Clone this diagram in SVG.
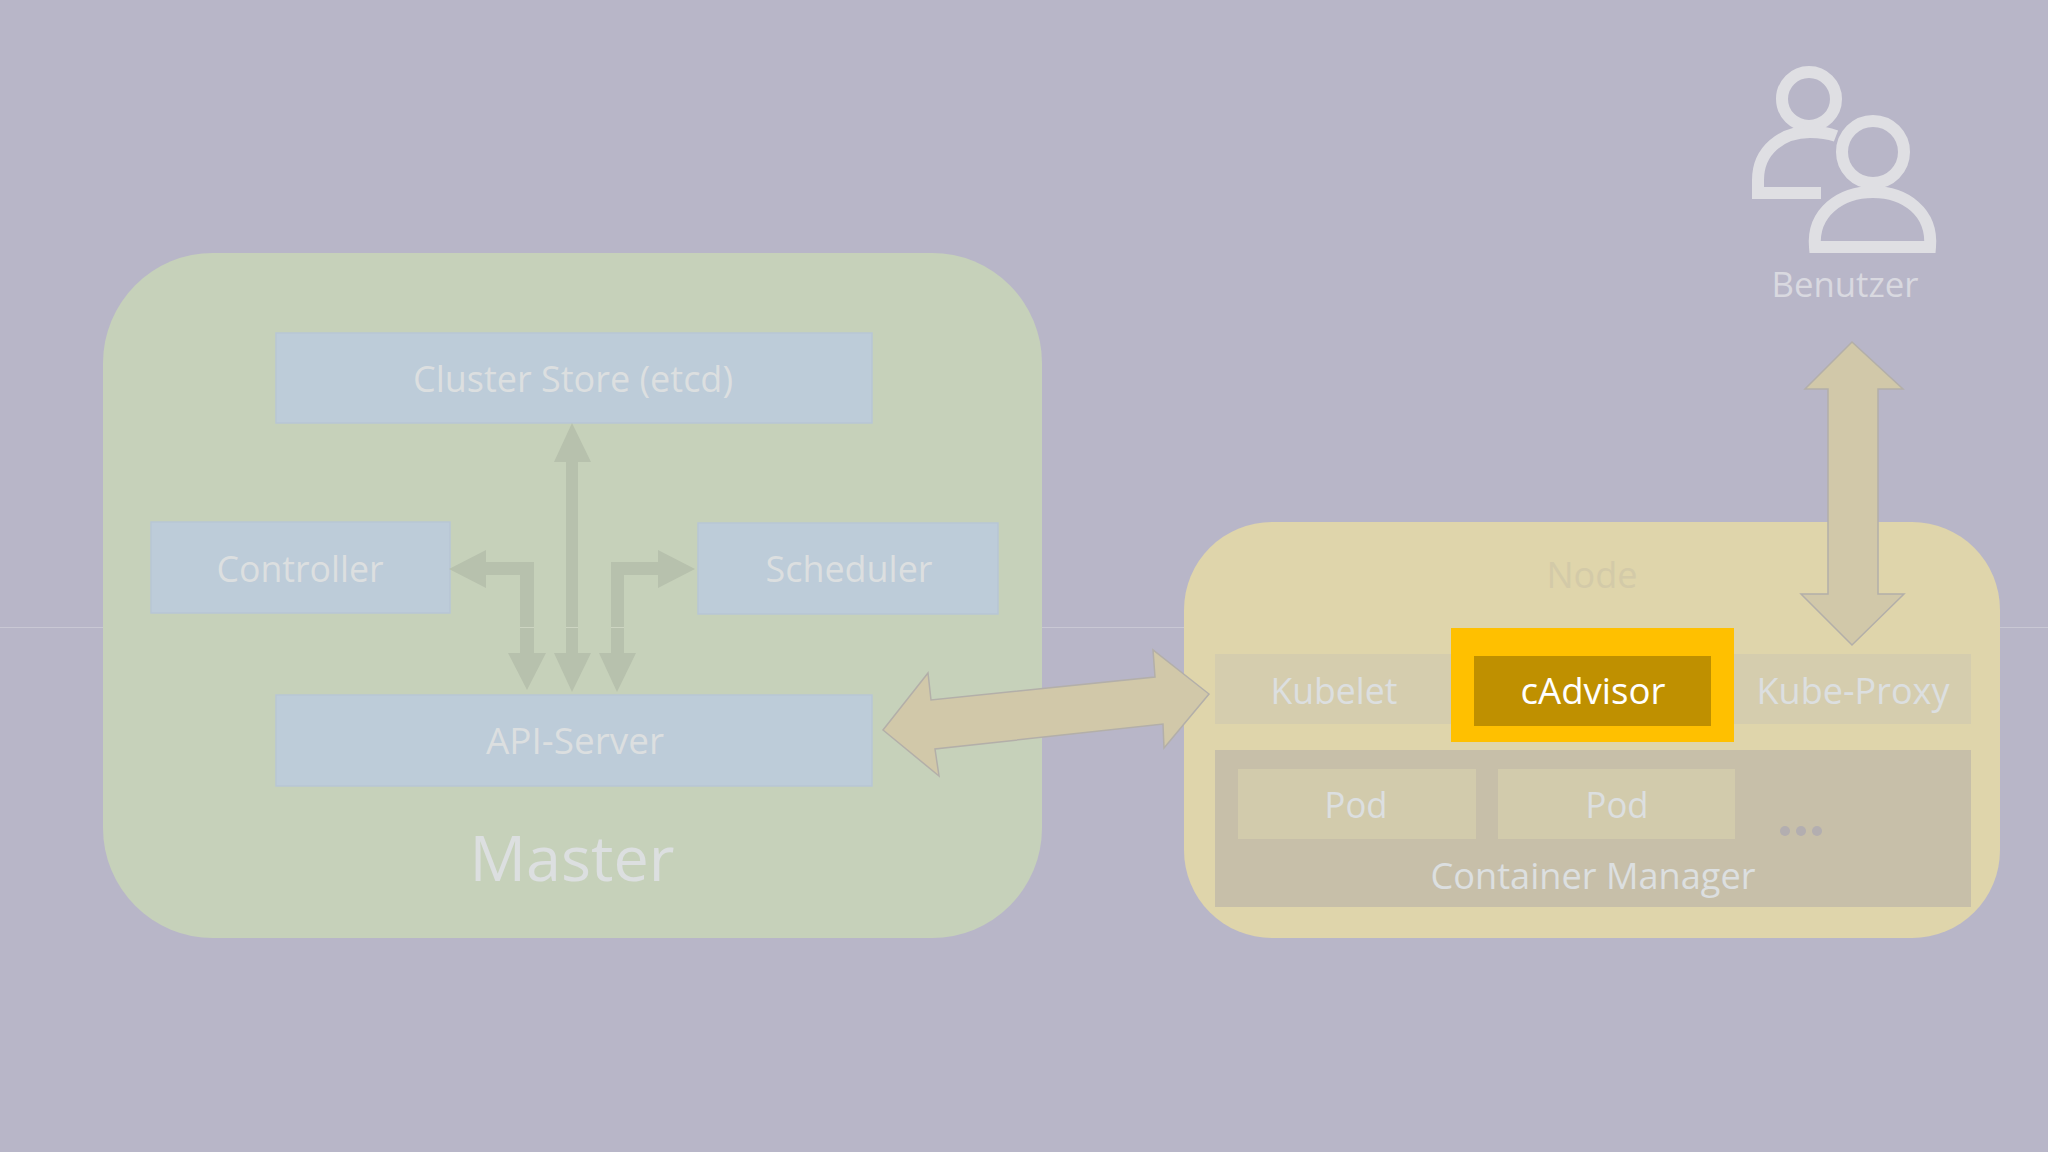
<svg xmlns="http://www.w3.org/2000/svg" width="2048" height="1152" viewBox="0 0 2048 1152">
<style>
text{font-family:"Open Sans","Noto Sans","Liberation Sans",sans-serif;font-size:37px;text-anchor:middle;fill:#dcdfe0}
.blue{fill:#bdccd9;stroke:#b8c6d5;stroke-width:1.5}
.band{fill:#d5cdae}
.pod{fill:#d2cbac}
.ga{fill:#b7c1ad}
.ba{fill:#d1c8a9;stroke:#b3afa9;stroke-width:1.5}
.ic{fill:none;stroke:#dfdfe3;stroke-width:12}
.edge{stroke:#c9c8d4;stroke-width:1;fill:none}
.mark{stroke:#cdd5c2;stroke-width:1;fill:none}
</style>
<rect width="2048" height="1152" fill="#b8b6c8"/>
<g id="scanline"><path class="edge" d="M0 627.500H103M1042 627.500H1184M2000 627.500H2048"/></g>
<g id="master"><rect x="103" y="253" width="939" height="685" rx="110" fill="#c6d1ba"/><text x="572" y="881" style="font-size:62px" textLength="205" lengthAdjust="spacingAndGlyphs">Master</text></g>
<g id="cluster-store"><rect class="blue" x="276" y="333" width="596" height="90"/><text x="573" y="392" textLength="320" lengthAdjust="spacingAndGlyphs">Cluster Store (etcd)</text></g>
<g id="controller"><rect class="blue" x="151" y="522" width="299" height="91"/><text x="300" y="582" textLength="167" lengthAdjust="spacingAndGlyphs">Controller</text></g>
<g id="scheduler"><rect class="blue" x="698" y="523" width="300" height="91"/><text x="849" y="582" textLength="167" lengthAdjust="spacingAndGlyphs">Scheduler</text></g>
<g id="api-server"><rect class="blue" x="276" y="695" width="596" height="91"/><text x="575" y="754" textLength="178" lengthAdjust="spacingAndGlyphs">API-Server</text></g>
<g id="node"><rect x="1184" y="522" width="816" height="416" rx="88" fill="#dfd5ab"/><text x="1592" y="588" textLength="91" lengthAdjust="spacingAndGlyphs" style="fill:#d3caa8">Node</text></g>
<g id="kubelet"><rect class="band" x="1215" y="654" width="240" height="70"/><text x="1334" y="704" textLength="127" lengthAdjust="spacingAndGlyphs">Kubelet</text></g>
<g id="kube-proxy"><rect class="band" x="1730" y="654" width="241" height="70"/><text x="1853" y="704" textLength="193" lengthAdjust="spacingAndGlyphs">Kube-Proxy</text></g>
<g id="cadvisor"><rect x="1451" y="628" width="283" height="114" fill="#ffc000"/><rect x="1474" y="656" width="237" height="70" fill="#bf9000"/><text x="1593" y="704" textLength="145" lengthAdjust="spacingAndGlyphs" style="fill:#fff">cAdvisor</text></g>
<g id="container-manager"><rect x="1215" y="750" width="756" height="157" fill="#c7bfa9"/><text x="1593" y="889" textLength="325" lengthAdjust="spacingAndGlyphs">Container Manager</text></g>
<g id="pod-1"><rect class="pod" x="1238" y="769" width="238" height="70"/><text x="1356" y="818" textLength="63" lengthAdjust="spacingAndGlyphs">Pod</text></g>
<g id="pod-2"><rect class="pod" x="1498" y="769" width="237" height="70"/><text x="1617" y="818" textLength="63" lengthAdjust="spacingAndGlyphs">Pod</text></g>
<g id="more" fill="#b3aeb0"><circle cx="1785" cy="831" r="5"/><circle cx="1801" cy="831" r="5"/><circle cx="1817" cy="831" r="5"/></g>
<g id="benutzer"><circle class="ic" cx="1809" cy="99" r="27"/><path class="ic" d="M1821 193H1758V180C1758 150 1782 132 1810 132C1819 132 1828 133 1836 136"/><circle class="ic" cx="1873" cy="152" r="31"/><path class="ic" d="M1815 247H1930C1933 212 1905 192 1873 192C1841 192 1812 212 1815 247Z"/><text x="1845" y="297" textLength="147" lengthAdjust="spacingAndGlyphs" style="font-size:35px;fill:#d9d9e0">Benutzer</text></g>
<g id="connectors">
<path class="ga" d="M572 423L591 462H578V653H591L572 692L554 653H566V462H554Z"/>
<path class="ga" d="M449 569L486 550V562H534V653H546L527 690L508 653H520V575H486V588Z"/>
<path class="ga" d="M695 569L658 550V562H611V653H599L617 692L636 653H624V575H658V588Z"/>
<path class="ba" d="M1852 342L1903 389H1878V594H1904L1852 645L1801 594H1828V389H1805Z"/>
<path class="ba" d="M883 730L928 673L931 700L1155 677L1153 650L1209 694L1164 748L1163 724L935 749L939 776Z"/>
<path class="mark" d="M520 627.500H534M566 627.500H578M611 627.500H624"/>
</g>
</svg>
